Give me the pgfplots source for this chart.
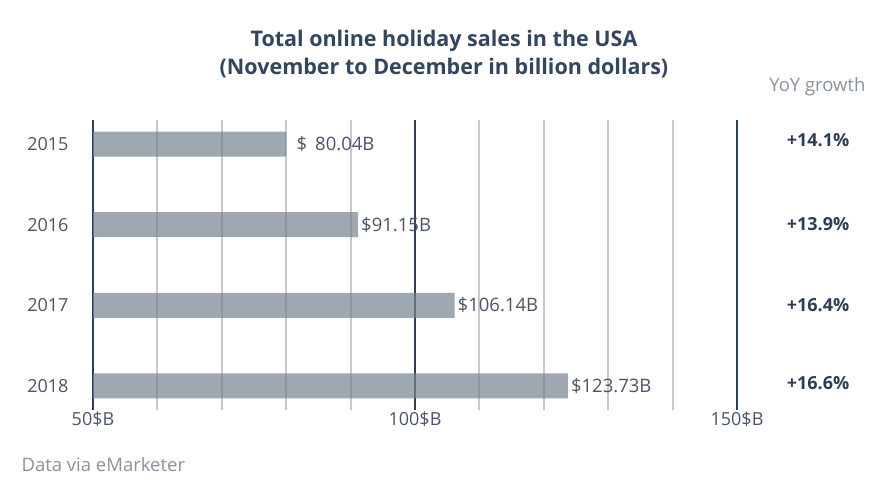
\documentclass[border=0pt]{standalone}
\usepackage{pgfplots}
\pgfplotsset{compat=1.18}
\usepackage{fontspec}
\setmainfont{Open Sans}
\definecolor{navy}{HTML}{2D3E58}
\definecolor{gridlt}{HTML}{C4C9D3}
\definecolor{barc}{HTML}{77838F}
\definecolor{txt}{HTML}{4A5568}
\definecolor{muted}{HTML}{8A93A0}
\definecolor{ttl}{HTML}{34465E}
\begin{document}
\begin{tikzpicture}[x=1pt,y=1pt]
\path[use as bounding box, fill=white] (0,0) rectangle (885,-489);
\begin{axis}[
  at={(93pt,-410pt)}, anchor=south west,
  scale only axis, width=644pt, height=290pt,
  xmin=50, xmax=150, ymin=-0.3, ymax=3.3, y dir=reverse,
  xbar, bar width=25pt, bar shift=0pt,
  xtick={50,100,150}, xticklabels={50\$B,100\$B,150\$B},
  minor xtick={60,70,80,90,110,120,130,140},
  xmajorgrids, xminorgrids,
  major grid style={navy, line width=1.8pt},
  minor grid style={gridlt, line width=2pt},
  ytick={0,1,2,3}, yticklabels={2015,2016,2017,2018},
  axis line style={draw=none},
  major tick length=0pt, minor tick length=0pt,
  tick label style={font=\fontsize{18}{20}\selectfont, text=txt},
  xticklabel style={yshift=2pt},
  yticklabel style={xshift=-21pt},
  nodes near coords, point meta=explicit symbolic,
  nodes near coords style={anchor=west, font=\fontsize{18.5}{20}\selectfont,
    text=txt, fill opacity=1, text opacity=1, inner sep=3pt},
]
\addplot[fill=barc, fill opacity=0.7, draw=none] coordinates {
  (80.04,0) [\hspace{7pt}\$\hspace{8pt}80.04B]
  (91.15,1) [\$91.15B]
  (106.14,2) [\$106.14B]
  (123.73,3) [\$123.73B]
};
\end{axis}
\node[font=\bfseries\fontsize{21.5}{28}\selectfont, text=ttl, align=center] at (444,-54)
  {Total online holiday sales in the USA\\(November to December in billion dollars)};
\node[font=\fontsize{18.5}{20}\selectfont, text=muted, anchor=east] at (869,-87) {YoY growth};
\foreach \v/\y in {{+14.1\%}/140,{+13.9\%}/224,{+16.4\%}/305,{+16.6\%}/383}
  \node[font=\bfseries\fontsize{18}{20}\selectfont, text=navy] at (818,-\y) {\v};
\node[font=\fontsize{18.5}{20}\selectfont, text=muted, anchor=west] at (18,-465) {Data via eMarketer};
\end{tikzpicture}
\end{document}
